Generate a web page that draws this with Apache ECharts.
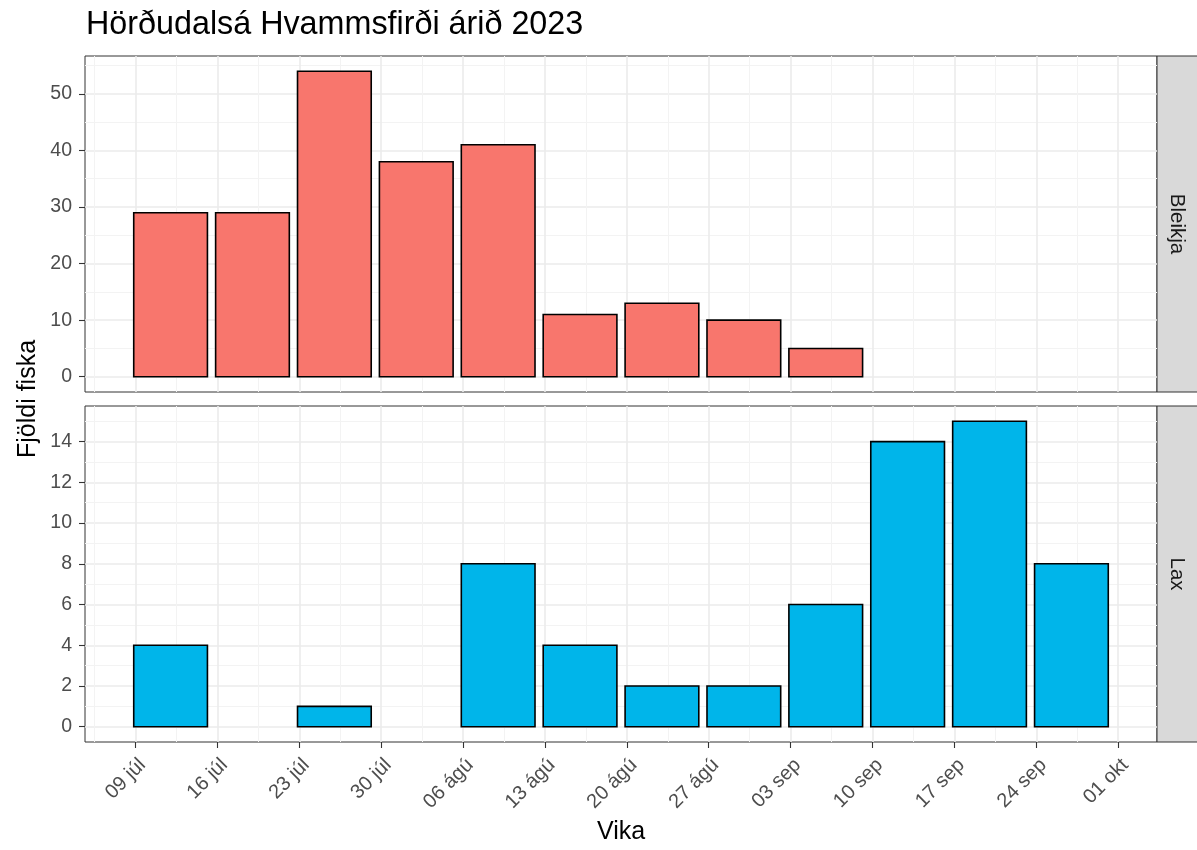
<!DOCTYPE html>
<html>
<head>
<meta charset="utf-8">
<script src="https://cdn.jsdelivr.net/npm/echarts@6/dist/echarts.min.js"></script>
<style>html,body{margin:0;padding:0;background:#fff}#c{width:1197px;height:850px}</style>
</head>
<body>
<div id="c"></div>
<script>
// ---- data ----
const titleText = 'Hörðudalsá Hvammsfirði árið 2023';
const xTitle = 'Vika';
const yTitle = 'Fjöldi fiska';
const panelNames = ['Bleikja', 'Lax'];
const weeks = ['2023-07-09','2023-07-16','2023-07-23','2023-07-30','2023-08-06','2023-08-13','2023-08-20','2023-08-27','2023-09-03','2023-09-10','2023-09-17','2023-09-24'];
const bleikja = [29, 29, 54, 38, 41, 11, 13, 10, 5, null, null, null];
const lax = [4, null, 1, null, 8, 4, 2, 2, 6, 14, 15, 8];
const xTickDates = ['2023-07-09','2023-07-16','2023-07-23','2023-07-30','2023-08-06','2023-08-13','2023-08-20','2023-08-27','2023-09-03','2023-09-10','2023-09-17','2023-09-24','2023-10-01'];
const xTickLabels = ['09 júl','16 júl','23 júl','30 júl','06 ágú','13 ágú','20 ágú','27 ágú','03 sep','10 sep','17 sep','24 sep','01 okt'];
const yTicksTop = [0, 10, 20, 30, 40, 50];
const yTicksBottom = [0, 2, 4, 6, 8, 10, 12, 14];

// ---- helpers ----
const FONT = '"Liberation Sans", Arial, Helvetica, sans-serif';
const BAR_OFFSET = 3;     // bar centre relative to week start (days)
const BAR_W = 6.3;        // 0.9 * 7 days
const ORIGIN = Date.UTC(2023, 6, 9) / 86400000;
function day(s){ const p = s.split('-').map(Number); return Date.UTC(p[0], p[1]-1, p[2]) / 86400000 - ORIGIN; }

const series0 = weeks.map((w,i)=> bleikja[i]==null ? null : [day(w)+BAR_OFFSET, bleikja[i]]).filter(Boolean);
const series1 = weeks.map((w,i)=> lax[i]==null ? null : [day(w)+BAR_OFFSET, lax[i]]).filter(Boolean);

const allC = series0.concat(series1).map(d=>d[0]);
const lo = Math.min(...allC) - BAR_W/2, hi = Math.max(...allC) + BAR_W/2;
const XMIN = lo - 0.05*(hi-lo), XMAX = hi + 0.05*(hi-lo);
const xMajor = xTickDates.map(day);
const xMinor = [];
xMajor.forEach(m=>{ [m-3.5, m+3.5].forEach(v=>{ if(v>XMIN && v<XMAX && xMinor.indexOf(v)<0) xMinor.push(v); }); });

function yExt(vals){ const mx = Math.max(...vals.filter(v=>v!=null)); return [-0.05*mx, mx*1.05]; }
const yE0 = yExt(bleikja), yE1 = yExt(lax);
function minors(majors, ext){ const st = majors[1]-majors[0]; const out=[]; majors.forEach(m=>{[m-st/2, m+st/2].forEach(v=>{ if(v>ext[0]&&v<ext[1]&&out.indexOf(v)<0) out.push(v);});}); return out; }

const MAJOR = {color:'#EBEBEB', width:1.6};
const MINOR = {color:'#F3F3F3', width:1};

function xAxesFor(g, showLabels){
  return [
    { gridIndex:g, type:'value', min:XMIN, max:XMAX, position:'bottom',
      axisLine:{show:false, onZero:false},
      axisTick:{show:showLabels, customValues:xMajor, length:6, lineStyle:{color:'#333333', width:1.1}},
      axisLabel:{show:showLabels, customValues:xMajor, rotate:45, align:'right', verticalAlign:'top', margin:13,
        color:'#4D4D4D', fontSize:20, fontFamily:FONT,
        formatter:(v)=>{ const i = xMajor.findIndex(m=>Math.abs(m-v)<1e-6); return i>=0 ? xTickLabels[i] : ''; }},
      splitLine:{show:true, lineStyle:MAJOR} },
    { gridIndex:g, type:'value', min:XMIN, max:XMAX, position:'top',
      axisLine:{show:false, onZero:false}, axisTick:{show:false, customValues:xMinor}, axisLabel:{show:false},
      splitLine:{show:true, lineStyle:MINOR} }
  ];
}
function yAxesFor(g, ext, majors){
  return [
    { gridIndex:g, type:'value', min:ext[0], max:ext[1], position:'left',
      axisLine:{show:false, onZero:false},
      axisTick:{show:true, customValues:majors, length:6, lineStyle:{color:'#333333', width:1.1}},
      axisLabel:{show:true, customValues:majors, margin:13, color:'#4D4D4D', fontSize:19.5, fontFamily:FONT,
        formatter:(v)=>String(Math.round(v))},
      splitLine:{show:true, lineStyle:MAJOR} },
    { gridIndex:g, type:'value', min:ext[0], max:ext[1], position:'right',
      axisLine:{show:false, onZero:false}, axisTick:{show:false, customValues:minors(majors, ext)}, axisLabel:{show:false},
      splitLine:{show:true, lineStyle:MINOR} }
  ];
}

function renderFor(color){
  return function(params, api){
    const c = api.value(0), v = api.value(1);
    const p0 = api.coord([c - BAR_W/2, v]);
    const p1 = api.coord([c + BAR_W/2, 0]);
    return { type:'rect', shape:{x:p0[0], y:p0[1], width:p1[0]-p0[0], height:p1[1]-p0[1]},
      style:{fill:color, stroke:'#000000', lineWidth:1.6} };
  };
}

const G0 = {left:85, top:56, width:1072, height:336};
const G1 = {left:85, top:406, width:1072, height:336};

const option = {
  animation:false,
  backgroundColor:'#ffffff',
  textStyle:{fontFamily:FONT},
  grid:[
    Object.assign({show:true, backgroundColor:'#ffffff', borderColor:'#333333', borderWidth:1, containLabel:false, outerBoundsMode:'none'}, G0),
    Object.assign({show:true, backgroundColor:'#ffffff', borderColor:'#333333', borderWidth:1, containLabel:false, outerBoundsMode:'none'}, G1)
  ],
  xAxis: xAxesFor(0,false).concat(xAxesFor(1,true)),
  yAxis: yAxesFor(0, yE0, yTicksTop).concat(yAxesFor(1, yE1, yTicksBottom)),
  series:[
    { type:'custom', name:panelNames[0], xAxisIndex:0, yAxisIndex:0, data:series0, encode:{x:0,y:1}, renderItem:renderFor('#F8766D'), clip:true },
    { type:'custom', name:panelNames[1], xAxisIndex:2, yAxisIndex:2, data:series1, encode:{x:0,y:1}, renderItem:renderFor('#00B5EA'), clip:true }
  ],
  graphic:[
    { type:'text', x:86, y:25, style:{text:titleText, fontSize:32.3, fontFamily:FONT, fill:'#000000', textAlign:'left', textVerticalAlign:'middle', align:'left', verticalAlign:'middle'} },
    { type:'rect', shape:{x:G0.left+G0.width, y:G0.top, width:45, height:G0.height}, style:{fill:'#D9D9D9', stroke:'#333333', lineWidth:1} },
    { type:'rect', shape:{x:G1.left+G1.width, y:G1.top, width:45, height:G1.height}, style:{fill:'#D9D9D9', stroke:'#333333', lineWidth:1} },
    { type:'text', x:1177, y:G0.top+G0.height/2, rotation:-Math.PI/2, style:{text:panelNames[0], fontSize:20.5, fontFamily:FONT, fill:'#1A1A1A', textAlign:'center', textVerticalAlign:'middle', align:'center', verticalAlign:'middle'} },
    { type:'text', x:1177, y:G1.top+G1.height/2, rotation:-Math.PI/2, style:{text:panelNames[1], fontSize:20.5, fontFamily:FONT, fill:'#1A1A1A', textAlign:'center', textVerticalAlign:'middle', align:'center', verticalAlign:'middle'} },
    { type:'text', x:621, y:832, style:{text:xTitle, fontSize:25, fontFamily:FONT, fill:'#000000', textAlign:'center', textVerticalAlign:'middle', align:'center', verticalAlign:'middle'} },
    { type:'text', x:28, y:399, rotation:Math.PI/2, style:{text:yTitle, fontSize:25, fontFamily:FONT, fill:'#000000', textAlign:'center', textVerticalAlign:'middle', align:'center', verticalAlign:'middle'} }
  ]
};
const chart = echarts.init(document.getElementById('c'), null, {renderer:'canvas'});
chart.setOption(option);
</script>
</body>
</html>
